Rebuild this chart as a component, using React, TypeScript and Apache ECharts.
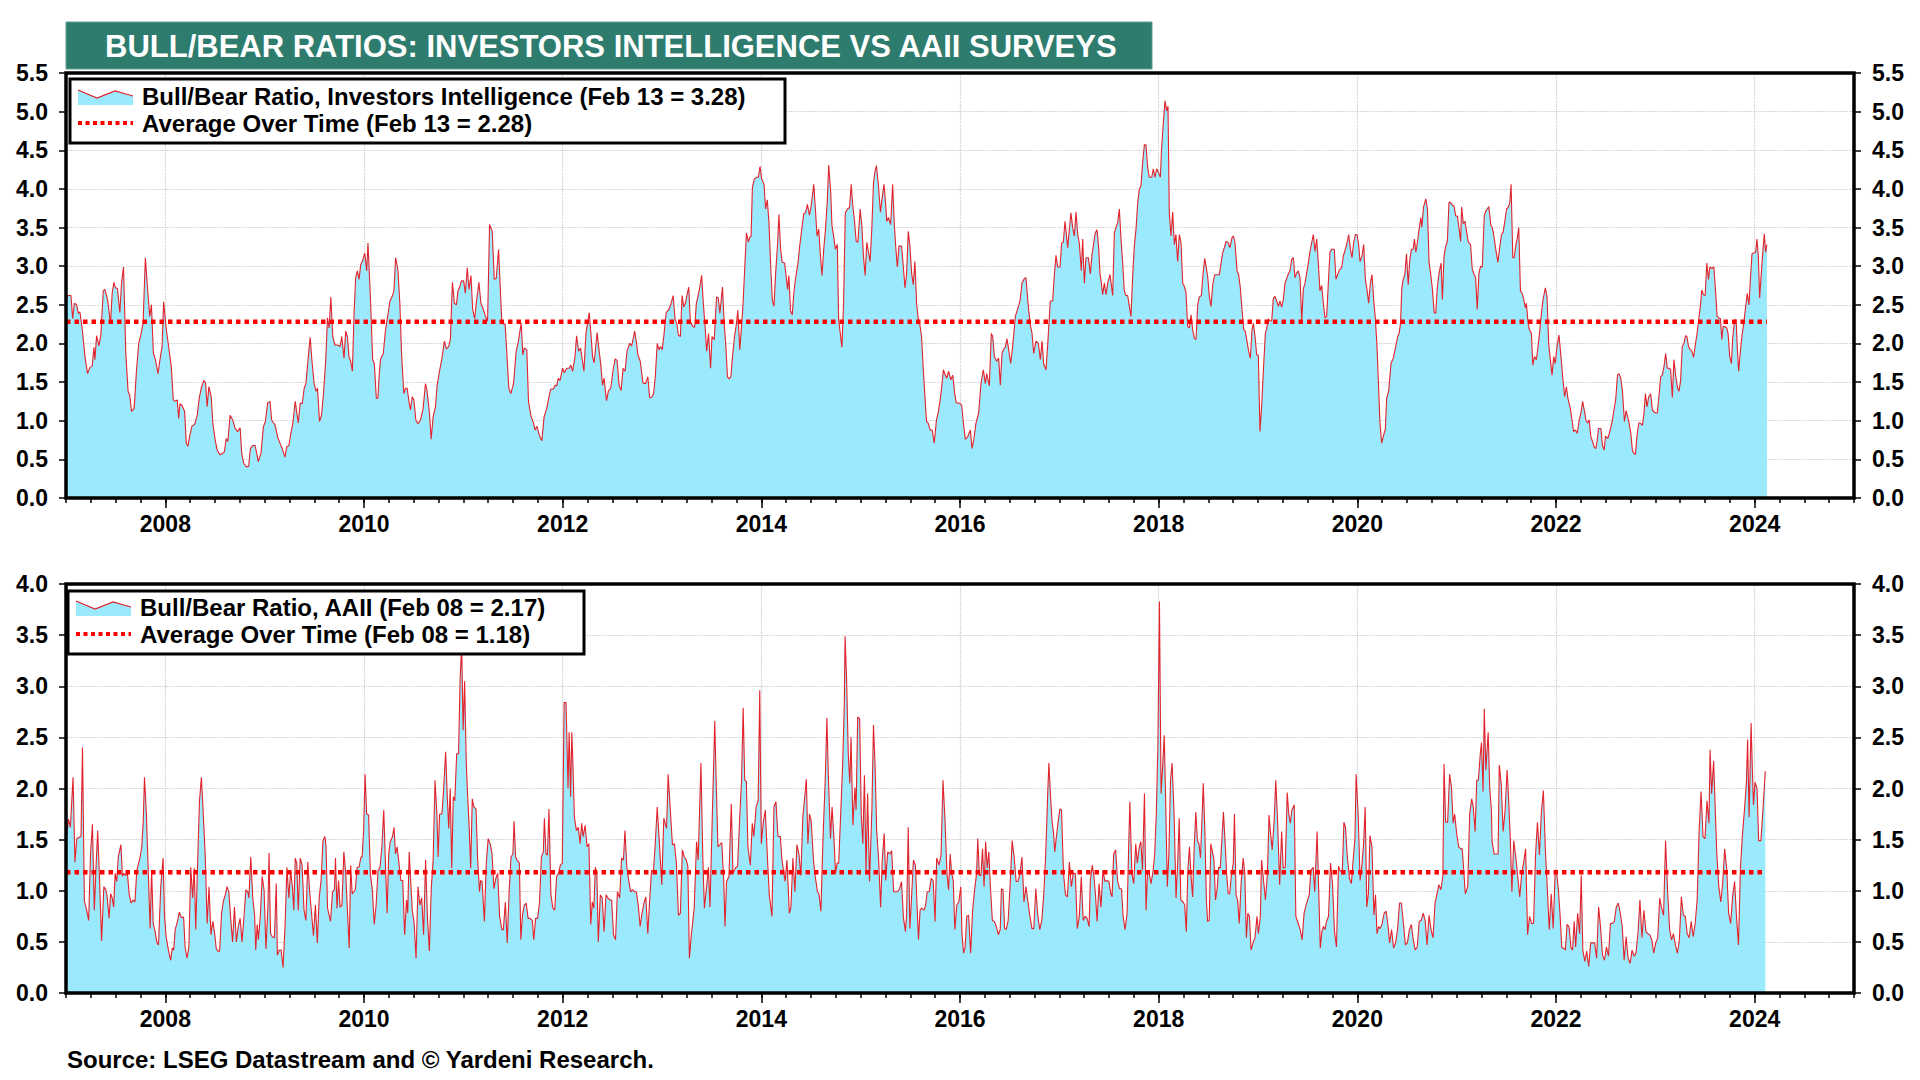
import React, { useEffect, useRef } from "react";
import * as echarts from "echarts";

// ---------------- text ----------------
const TITLE = "BULL/BEAR RATIOS: INVESTORS INTELLIGENCE VS AAII SURVEYS";
const SOURCE = "Source: LSEG Datastream and © Yardeni Research.";
const II_LEGEND = [
  "Bull/Bear Ratio, Investors Intelligence (Feb 13 = 3.28)",
  "Average Over Time (Feb 13 = 2.28)",
];
const AAII_LEGEND = [
  "Bull/Bear Ratio, AAII (Feb 08 = 2.17)",
  "Average Over Time (Feb 08 = 1.18)",
];

// ---------------- axes ----------------
const X_MIN = 2007;
const X_MAX = 2025;
const YEAR_LABELS = [2008, 2010, 2012, 2014, 2016, 2018, 2020, 2022, 2024];
const II_Y_MAX = 5.5;
const AAII_Y_MAX = 4.0;
const Y_STEP = 0.5;

// ---------------- averages ----------------
const II_AVERAGE = 2.28;
const AAII_AVERAGE = 1.18;

// ---------------- Investors Intelligence bull/bear ratio [decimal year, value] ----------------
const ii2007to2011 = [
  2007.005,2.60,
  2007.023,2.62, 2007.050,2.62, 2007.067,2.32, 2007.084,2.52, 2007.107,2.50, 2007.124,2.39, 2007.140,2.41, 2007.164,2.18,
  2007.191,1.83, 2007.217,1.61, 2007.241,1.69, 2007.264,1.71, 2007.281,1.95, 2007.291,1.79, 2007.308,2.10, 2007.331,1.97,
  2007.351,2.11, 2007.375,2.68, 2007.391,2.70, 2007.418,2.57, 2007.448,2.26, 2007.465,2.65, 2007.482,2.79, 2007.498,2.72,
  2007.518,2.71, 2007.542,2.40, 2007.559,2.78, 2007.579,2.99, 2007.602,1.87, 2007.625,1.38, 2007.642,1.33, 2007.659,1.12,
  2007.686,1.16, 2007.709,1.64, 2007.732,2.00, 2007.753,2.11, 2007.776,2.26, 2007.799,3.11, 2007.819,2.74, 2007.843,2.35,
  2007.860,2.50, 2007.880,1.87, 2007.900,1.79, 2007.926,1.61, 2007.946,1.79, 2007.967,1.96, 2007.983,2.54, 2008.010,2.18,
  2008.033,1.96, 2008.060,1.70, 2008.080,1.27, 2008.100,1.25, 2008.120,1.27, 2008.134,1.03, 2008.147,1.22, 2008.167,1.20,
  2008.194,1.12, 2008.211,0.71, 2008.227,0.67, 2008.247,0.81, 2008.268,0.93, 2008.294,0.95, 2008.321,1.07, 2008.341,1.29,
  2008.361,1.42, 2008.388,1.52, 2008.405,1.49, 2008.421,1.18, 2008.438,1.44, 2008.462,1.31, 2008.478,0.97, 2008.502,0.75,
  2008.522,0.62, 2008.548,0.56, 2008.579,0.58, 2008.595,0.60, 2008.612,0.77, 2008.629,0.73, 2008.652,1.07, 2008.679,1.01,
  2008.702,0.90, 2008.729,0.86, 2008.753,0.91, 2008.769,0.58, 2008.789,0.45, 2008.819,0.40, 2008.839,0.41, 2008.856,0.64,
  2008.880,0.68, 2008.903,0.68, 2008.920,0.58, 2008.936,0.47, 2008.963,0.58, 2008.987,0.92, 2009.007,0.99, 2009.030,1.23,
  2009.054,1.25, 2009.070,1.01, 2009.090,0.97, 2009.104,0.95, 2009.130,0.79, 2009.154,0.71, 2009.177,0.64, 2009.204,0.53,
  2009.221,0.66, 2009.244,0.68, 2009.264,0.84, 2009.284,0.97, 2009.308,1.25, 2009.324,1.10, 2009.338,0.97, 2009.358,1.23,
  2009.378,1.22, 2009.398,1.42, 2009.415,1.48, 2009.438,1.81, 2009.458,2.08, 2009.475,1.79, 2009.498,1.48, 2009.518,1.38,
  2009.532,1.42, 2009.552,0.99, 2009.572,1.07, 2009.592,1.35, 2009.615,1.79, 2009.632,2.33, 2009.649,2.20, 2009.666,2.60,
  2009.686,2.09, 2009.706,1.98, 2009.732,1.98, 2009.759,1.96, 2009.776,2.09, 2009.799,1.81, 2009.816,2.16, 2009.833,2.09,
  2009.849,1.83, 2009.866,1.77, 2009.883,1.64, 2009.900,2.39, 2009.916,2.85, 2009.933,2.94, 2009.950,2.83, 2009.967,3.02,
  2009.983,3.06, 2010.007,3.17, 2010.027,2.94, 2010.040,3.30, 2010.067,2.52, 2010.087,1.79, 2010.104,1.74, 2010.124,1.29,
  2010.140,1.29, 2010.154,1.61, 2010.167,1.80, 2010.194,1.87, 2010.217,2.18, 2010.241,2.37, 2010.261,2.55, 2010.284,2.61,
  2010.301,2.68, 2010.318,3.11, 2010.341,2.96, 2010.361,2.52, 2010.378,1.87, 2010.401,1.35, 2010.418,1.42, 2010.435,1.42,
  2010.452,1.25, 2010.468,1.14, 2010.485,1.31, 2010.502,1.27, 2010.522,1.01, 2010.542,0.96, 2010.569,1.01, 2010.595,1.16,
  2010.619,1.48, 2010.635,1.38, 2010.659,1.10, 2010.676,0.76, 2010.696,1.05, 2010.719,1.18, 2010.736,1.46, 2010.763,1.66,
  2010.786,1.82, 2010.809,2.03, 2010.829,1.93, 2010.853,1.96, 2010.870,2.06, 2010.890,2.79, 2010.910,2.52, 2010.930,2.50,
  2010.946,2.68, 2010.963,2.73, 2010.980,2.81, 2011.003,2.81, 2011.020,2.65, 2011.040,2.98, 2011.057,2.70, 2011.077,2.88,
  2011.094,2.44, 2011.114,2.32, 2011.130,2.52, 2011.157,2.79, 2011.177,2.52, 2011.204,2.43, 2011.224,2.35, 2011.244,2.29,
  2011.264,3.54, 2011.291,3.45, 2011.311,2.83, 2011.331,2.84, 2011.355,3.22, 2011.371,2.74, 2011.388,2.26, 2011.421,2.25,
  2011.438,1.87, 2011.458,1.42, 2011.478,1.35, 2011.505,1.48, 2011.532,1.90, 2011.555,2.03, 2011.572,2.18,
];
const ii2011to2015 = [
  2011.583,2.26, 2011.599,1.85, 2011.613,1.94, 2011.639,1.92, 2011.656,1.25, 2011.679,1.07, 2011.706,0.97, 2011.723,0.88,
  2011.740,0.93, 2011.766,0.81, 2011.790,0.74, 2011.813,1.05, 2011.840,1.16, 2011.866,1.33, 2011.880,1.41, 2011.907,1.41,
  2011.923,1.46, 2011.940,1.45, 2011.957,1.55, 2011.973,1.52, 2012.000,1.68, 2012.017,1.62, 2012.040,1.68, 2012.067,1.68,
  2012.083,1.72, 2012.100,1.64, 2012.124,1.83, 2012.140,2.10, 2012.160,1.90, 2012.180,1.94, 2012.200,1.77, 2012.214,1.64,
  2012.234,2.13, 2012.250,2.26, 2012.267,2.40, 2012.284,2.13, 2012.301,1.83, 2012.317,1.75, 2012.347,2.14, 2012.364,1.94,
  2012.384,1.72, 2012.401,1.46, 2012.417,1.55, 2012.441,1.26, 2012.461,1.39, 2012.484,1.42, 2012.508,1.66, 2012.528,1.80,
  2012.548,1.78, 2012.568,1.46, 2012.588,1.39, 2012.608,1.68, 2012.628,1.64, 2012.648,1.90, 2012.674,2.00, 2012.694,1.97,
  2012.708,2.05, 2012.725,2.16, 2012.741,2.03, 2012.758,1.85, 2012.781,1.77, 2012.808,1.49, 2012.835,1.48, 2012.858,1.57,
  2012.875,1.30, 2012.895,1.30, 2012.915,1.35, 2012.932,1.57, 2012.952,2.00, 2012.968,1.92, 2012.985,1.96, 2013.002,1.92,
  2013.018,2.09, 2013.042,2.40, 2013.068,2.44, 2013.088,2.50, 2013.112,2.62, 2013.132,2.31, 2013.149,2.26, 2013.165,2.11,
  2013.185,2.09, 2013.202,2.62, 2013.219,2.47, 2013.235,2.52, 2013.249,2.61, 2013.269,2.73, 2013.285,2.29, 2013.309,2.22,
  2013.329,2.21, 2013.346,2.52, 2013.362,2.61, 2013.382,2.74, 2013.399,2.88, 2013.416,2.52, 2013.436,2.18, 2013.449,1.90,
  2013.469,2.13, 2013.489,1.68, 2013.503,2.09, 2013.526,2.05, 2013.549,2.60, 2013.566,2.59, 2013.583,2.39, 2013.609,2.73,
  2013.626,2.26, 2013.643,1.96, 2013.659,1.57, 2013.676,1.54, 2013.693,1.57, 2013.710,1.83, 2013.730,2.09, 2013.750,2.26,
  2013.763,2.43, 2013.783,1.92, 2013.803,2.26, 2013.816,2.52, 2013.836,3.06, 2013.850,3.43, 2013.870,3.31, 2013.883,3.37,
  2013.897,3.39, 2013.910,4.02, 2013.930,4.13, 2013.950,4.15, 2013.970,4.15, 2013.987,4.29, 2014.003,4.13, 2014.027,4.06,
  2014.043,3.74, 2014.060,3.86, 2014.077,3.56, 2014.093,3.04, 2014.110,2.57, 2014.127,2.48, 2014.144,2.91, 2014.164,3.30,
  2014.177,3.67, 2014.194,3.22, 2014.210,3.05, 2014.234,3.04, 2014.250,2.87, 2014.264,2.70, 2014.277,2.88, 2014.294,2.42,
  2014.311,2.37, 2014.327,2.65, 2014.344,2.84, 2014.367,3.02, 2014.387,3.27, 2014.411,3.52, 2014.427,3.68, 2014.444,3.69,
  2014.464,3.80, 2014.484,3.66, 2014.501,3.77, 2014.528,4.06, 2014.544,3.74, 2014.561,3.39, 2014.578,3.48, 2014.594,3.15,
  2014.611,2.88, 2014.628,3.22, 2014.644,3.45, 2014.664,3.84, 2014.678,4.31, 2014.698,3.97, 2014.711,3.53, 2014.728,3.39,
  2014.745,3.22, 2014.765,3.28, 2014.778,2.31, 2014.795,2.13, 2014.811,1.95, 2014.828,2.52, 2014.845,3.69, 2014.868,3.74,
  2014.888,3.76, 2014.905,4.06, 2014.918,3.82, 2014.938,3.58, 2014.955,3.32, 2014.972,3.31, 2014.995,3.74, 2015.012,3.52,
  2015.028,3.13, 2015.045,2.88, 2015.062,3.31, 2015.078,3.19, 2015.095,3.06, 2015.112,3.48, 2015.129,4.08, 2015.145,4.23,
  2015.159,4.30, 2015.179,4.04, 2015.199,3.70, 2015.219,3.91, 2015.235,4.06, 2015.252,3.80, 2015.262,3.58, 2015.279,3.63,
  2015.302,3.54, 2015.322,4.06, 2015.339,3.54, 2015.352,3.27, 2015.369,2.99, 2015.386,3.26, 2015.412,3.26, 2015.429,3.00,
  2015.446,2.72, 2015.462,2.89, 2015.479,3.45, 2015.496,3.26, 2015.513,2.91, 2015.529,2.76, 2015.546,3.06, 2015.563,2.52,
  2015.579,2.33, 2015.596,2.24, 2015.613,2.09, 2015.629,1.70, 2015.646,1.33, 2015.663,0.99, 2015.679,0.97, 2015.700,0.88,
  2015.720,0.88, 2015.740,0.71, 2015.763,1.01, 2015.780,1.10, 2015.796,1.23, 2015.813,1.40, 2015.833,1.66, 2015.846,1.61,
  2015.866,1.55, 2015.886,1.64, 2015.907,1.53, 2015.927,1.59, 2015.947,1.35, 2015.963,1.23,
];
const ii2016to2020 = [
  2015.993,1.23, 2016.017,1.20, 2016.034,0.97, 2016.054,0.76, 2016.077,0.79, 2016.104,0.88, 2016.121,0.64, 2016.138,0.75,
  2016.161,0.97, 2016.188,1.10, 2016.211,1.48, 2016.235,1.66, 2016.255,1.48, 2016.268,1.61, 2016.295,1.45, 2016.315,2.13,
  2016.329,2.09, 2016.346,1.83, 2016.369,1.77, 2016.389,1.81, 2016.406,1.46, 2016.423,1.87, 2016.440,1.93, 2016.456,1.95,
  2016.473,2.06, 2016.490,1.92, 2016.510,1.74, 2016.530,1.96, 2016.557,2.35, 2016.581,2.45, 2016.604,2.55, 2016.624,2.78,
  2016.648,2.84, 2016.664,2.85, 2016.685,2.52, 2016.705,2.26, 2016.725,2.13, 2016.742,1.87, 2016.765,2.03, 2016.789,2.00,
  2016.809,1.79, 2016.826,2.03, 2016.842,1.74, 2016.866,1.66, 2016.886,2.05, 2016.909,2.55, 2016.933,2.55, 2016.950,2.89,
  2016.966,3.14, 2016.983,2.99, 2017.007,2.99, 2017.023,3.30, 2017.040,3.31, 2017.057,3.58, 2017.084,3.24, 2017.101,3.48,
  2017.117,3.69, 2017.134,3.50, 2017.151,3.39, 2017.168,3.70, 2017.185,3.41, 2017.201,3.30, 2017.221,2.94, 2017.235,3.35,
  2017.252,2.78, 2017.268,3.11, 2017.292,3.11, 2017.312,2.90, 2017.329,3.15, 2017.346,3.30, 2017.362,3.43, 2017.379,3.47,
  2017.396,3.24, 2017.409,2.91, 2017.423,2.78, 2017.436,2.63, 2017.453,2.78, 2017.470,2.63, 2017.487,2.78, 2017.510,2.89,
  2017.537,2.62, 2017.554,3.43, 2017.570,3.50, 2017.587,3.56, 2017.604,3.74, 2017.621,3.35, 2017.638,3.04, 2017.654,2.68,
  2017.671,2.62, 2017.688,2.62, 2017.705,2.48, 2017.721,2.35, 2017.738,2.87, 2017.755,3.26, 2017.772,3.48, 2017.789,3.82,
  2017.805,4.00, 2017.822,4.04, 2017.839,4.34, 2017.856,4.57, 2017.872,4.57, 2017.889,4.28, 2017.906,4.15, 2017.930,4.15,
  2017.946,4.26, 2017.963,4.15, 2017.980,4.26, 2018.000,4.21, 2018.017,4.15, 2018.030,4.54, 2018.047,4.86, 2018.064,5.14,
  2018.081,5.01, 2018.094,5.07, 2018.107,3.69, 2018.124,3.39, 2018.141,3.70, 2018.158,3.28, 2018.174,3.41, 2018.191,3.06,
  2018.208,3.41, 2018.225,3.30, 2018.242,2.78, 2018.258,2.74, 2018.275,2.66, 2018.292,2.22, 2018.309,2.20, 2018.326,2.37,
  2018.342,2.18, 2018.359,2.07, 2018.376,2.05, 2018.393,2.50, 2018.409,2.60, 2018.430,2.62, 2018.443,2.85, 2018.463,3.10,
  2018.477,3.00, 2018.493,2.87, 2018.510,2.61, 2018.527,2.48, 2018.544,2.76, 2018.564,2.89, 2018.584,2.89, 2018.611,2.89,
  2018.628,3.04, 2018.644,3.17, 2018.661,3.24, 2018.678,3.32, 2018.698,3.31, 2018.718,3.24, 2018.738,3.37, 2018.752,3.39,
  2018.768,3.31, 2018.789,2.94, 2018.805,2.89, 2018.822,2.72, 2018.839,2.44, 2018.856,2.18, 2018.872,2.16, 2018.889,2.03,
  2018.906,1.90, 2018.923,1.81, 2018.940,2.18, 2018.953,2.26, 2018.970,2.09, 2018.987,1.85, 2019.003,1.85, 2019.020,0.86,
  2019.040,1.27, 2019.054,1.64, 2019.074,2.13, 2019.087,2.19, 2019.104,2.32, 2019.121,2.29, 2019.138,2.29, 2019.154,2.58,
  2019.171,2.61, 2019.188,2.55, 2019.205,2.48, 2019.221,2.55, 2019.238,2.47, 2019.255,2.57, 2019.272,2.78, 2019.289,2.84,
  2019.305,2.90, 2019.322,2.94, 2019.339,3.09, 2019.356,3.11, 2019.372,2.85, 2019.389,2.91, 2019.406,2.94, 2019.423,2.85,
  2019.440,2.29, 2019.456,2.70, 2019.473,2.78, 2019.490,2.91, 2019.507,3.04, 2019.523,3.19, 2019.540,3.30, 2019.557,3.41,
  2019.574,3.19, 2019.591,3.35, 2019.607,3.04, 2019.624,2.68, 2019.641,2.75, 2019.658,2.52, 2019.674,2.33, 2019.691,2.35,
  2019.708,2.78, 2019.725,3.19, 2019.745,3.22, 2019.768,3.22, 2019.785,2.83, 2019.802,2.89, 2019.819,2.95, 2019.842,2.98,
  2019.859,3.13, 2019.879,3.22, 2019.896,3.30, 2019.913,3.41, 2019.930,3.22, 2019.946,3.11, 2019.963,3.30, 2019.980,3.41,
  2019.997,3.41, 2020.013,3.28, 2020.027,3.06, 2020.047,3.13, 2020.064,3.28, 2020.081,2.83, 2020.097,2.70, 2020.114,2.52,
  2020.131,2.78, 2020.148,2.89, 2020.164,2.57, 2020.181,2.33, 2020.198,1.96, 2020.215,1.40, 2020.228,0.97, 2020.245,0.71,
  2020.262,0.80, 2020.282,0.89, 2020.295,1.29, 2020.315,1.38, 2020.339,1.74, 2020.362,1.81, 2020.383,1.94, 2020.406,2.09,
];
const ii2020to2024 = [
  2020.421,2.13, 2020.435,2.26, 2020.448,2.72, 2020.462,2.83, 2020.478,2.89, 2020.495,3.16, 2020.512,2.76, 2020.528,3.08,
  2020.545,3.22, 2020.562,3.22, 2020.575,3.35, 2020.589,3.18, 2020.605,3.31, 2020.622,3.48, 2020.639,3.63, 2020.649,3.50,
  2020.666,3.76, 2020.689,3.87, 2020.706,3.74, 2020.722,3.05, 2020.739,2.89, 2020.756,2.70, 2020.773,2.40, 2020.789,2.39,
  2020.806,2.74, 2020.823,2.91, 2020.843,3.04, 2020.856,2.57, 2020.873,3.13, 2020.890,3.26, 2020.906,3.32, 2020.923,3.83,
  2020.940,3.82, 2020.957,3.79, 2020.973,3.78, 2020.990,3.65, 2021.007,3.65, 2021.023,3.50, 2021.040,3.32, 2021.050,3.77,
  2021.067,3.55, 2021.084,3.58, 2021.100,3.44, 2021.117,3.31, 2021.140,3.28, 2021.157,2.96, 2021.174,2.90, 2021.191,2.85,
  2021.207,2.44, 2021.224,2.91, 2021.241,3.00, 2021.258,2.99, 2021.278,3.65, 2021.291,3.71, 2021.308,3.74, 2021.324,3.77,
  2021.344,3.53, 2021.358,3.50, 2021.375,3.39, 2021.391,3.24, 2021.415,3.05, 2021.431,3.22, 2021.452,3.41, 2021.468,3.44,
  2021.485,3.58, 2021.502,3.74, 2021.518,3.76, 2021.535,3.82, 2021.548,4.06, 2021.565,3.11, 2021.579,3.11, 2021.599,3.30,
  2021.609,3.35, 2021.625,3.50, 2021.642,2.68, 2021.659,2.65, 2021.676,2.57, 2021.692,2.46, 2021.702,2.52, 2021.719,2.26,
  2021.732,2.18, 2021.753,2.13, 2021.766,1.72, 2021.783,1.83, 2021.803,1.79, 2021.819,1.96, 2021.836,2.16, 2021.853,2.39,
  2021.870,2.57, 2021.893,2.72, 2021.910,2.60, 2021.926,2.00, 2021.943,1.79, 2021.960,1.59, 2021.977,1.83, 2021.993,1.74,
  2022.010,1.96, 2022.030,2.11, 2022.050,1.83, 2022.067,1.57, 2022.087,1.31, 2022.104,1.44, 2022.120,1.29, 2022.144,1.16,
  2022.161,1.01, 2022.177,0.86, 2022.194,0.88, 2022.214,0.84, 2022.234,1.01, 2022.251,1.10, 2022.268,1.25, 2022.284,1.14,
  2022.301,1.01, 2022.318,0.97, 2022.334,1.01, 2022.351,0.79, 2022.368,0.73, 2022.385,0.66, 2022.401,0.64, 2022.415,0.75,
  2022.428,0.90, 2022.452,0.90, 2022.468,0.68, 2022.485,0.62, 2022.498,0.80, 2022.522,0.77, 2022.538,0.84, 2022.562,0.97,
  2022.579,1.10, 2022.602,1.29, 2022.619,1.59, 2022.635,1.61, 2022.652,1.55, 2022.669,1.38, 2022.689,0.99, 2022.706,1.13,
  2022.722,1.05, 2022.736,0.97, 2022.753,0.84, 2022.769,0.62, 2022.783,0.58, 2022.799,0.56, 2022.816,0.81, 2022.833,0.97,
  2022.849,0.97, 2022.870,0.94, 2022.886,1.10, 2022.900,1.35, 2022.916,1.18, 2022.933,1.31, 2022.953,1.35, 2022.970,1.14,
  2022.983,1.12, 2023.003,1.10, 2023.020,1.10, 2023.037,1.33, 2023.054,1.57, 2023.070,1.59, 2023.087,1.70, 2023.104,1.87,
  2023.120,1.68, 2023.137,1.68, 2023.154,1.66, 2023.171,1.30, 2023.187,1.79, 2023.204,1.59, 2023.221,1.44, 2023.237,1.38,
  2023.254,1.51, 2023.271,1.96, 2023.288,2.00, 2023.304,2.10, 2023.318,2.09, 2023.334,1.96, 2023.351,1.92, 2023.368,1.90,
  2023.385,1.82, 2023.401,1.97, 2023.418,2.11, 2023.435,2.29, 2023.452,2.47, 2023.468,2.69, 2023.485,2.63, 2023.502,2.62,
  2023.518,3.04, 2023.535,2.83, 2023.548,2.99, 2023.569,2.97, 2023.589,2.99, 2023.605,2.70, 2023.622,2.35, 2023.639,2.33,
  2023.656,2.32, 2023.669,2.05, 2023.682,2.22, 2023.699,2.22, 2023.719,2.20, 2023.732,2.13, 2023.749,1.83, 2023.766,1.74,
  2023.779,2.07, 2023.796,2.29, 2023.813,2.31, 2023.826,1.92, 2023.839,1.64, 2023.856,1.90, 2023.873,2.11, 2023.890,2.26,
  2023.906,2.44, 2023.926,2.65, 2023.943,2.50, 2023.957,2.83, 2023.973,3.16, 2023.993,3.17, 2024.010,3.18, 2024.023,3.35,
  2024.037,3.13, 2024.050,2.59, 2024.067,2.91, 2024.084,3.22, 2024.097,3.42, 2024.110,3.18, 2024.123,3.28,
];

// ---------------- AAII bull/bear ratio [decimal year, value] ----------------
const aaii2007to2012 = [
  2007.008,1.55, 2007.025,1.70,
  2007.044,1.62, 2007.071,2.11, 2007.090,1.28, 2007.109,1.51, 2007.128,1.52, 2007.151,1.53, 2007.166,2.40, 2007.185,0.90,
  2007.208,0.81, 2007.228,0.71, 2007.247,1.36, 2007.266,1.65, 2007.285,0.81, 2007.304,1.27, 2007.319,1.59, 2007.338,1.10,
  2007.358,0.51, 2007.381,1.04, 2007.400,1.01, 2007.415,0.94, 2007.434,0.73, 2007.449,0.97, 2007.465,0.93, 2007.480,0.84,
  2007.495,1.17, 2007.511,1.09, 2007.526,1.33, 2007.553,1.45, 2007.568,1.14, 2007.579,1.17, 2007.598,1.15, 2007.618,1.17,
  2007.637,0.96, 2007.656,0.88, 2007.675,0.91, 2007.694,0.89, 2007.713,1.20, 2007.744,1.32, 2007.763,1.43, 2007.778,1.69,
  2007.790,2.11, 2007.809,1.75, 2007.828,1.20, 2007.847,0.63, 2007.862,1.20, 2007.878,0.68, 2007.893,0.62, 2007.916,0.49,
  2007.931,0.47, 2007.954,1.04, 2007.977,1.32, 2007.992,0.75, 2008.008,0.55, 2008.031,0.42, 2008.054,0.32, 2008.069,0.44,
  2008.084,0.42, 2008.099,0.62, 2008.122,0.70, 2008.141,0.79, 2008.161,0.74, 2008.184,0.74, 2008.199,0.45, 2008.218,0.34,
  2008.237,0.45, 2008.256,1.23, 2008.275,0.93, 2008.291,1.22, 2008.306,0.62, 2008.329,1.40, 2008.344,1.88, 2008.363,2.11,
  2008.382,1.75, 2008.402,1.33, 2008.421,0.68, 2008.440,1.04, 2008.459,0.57, 2008.478,0.70, 2008.497,0.58, 2008.512,0.44,
  2008.528,0.41, 2008.547,0.41, 2008.566,0.78, 2008.585,0.90, 2008.604,0.96, 2008.620,1.04, 2008.639,0.99, 2008.658,0.73,
  2008.677,0.50, 2008.696,0.84, 2008.715,0.50, 2008.734,0.65, 2008.753,0.73, 2008.772,0.50, 2008.792,0.75, 2008.811,1.01,
  2008.830,0.99, 2008.841,0.93, 2008.860,1.33, 2008.880,0.93, 2008.899,0.76, 2008.910,0.42, 2008.925,0.67, 2008.937,0.52,
  2008.956,0.75, 2008.975,1.14, 2008.994,1.01, 2009.013,0.43, 2009.033,0.84, 2009.044,1.37, 2009.059,0.58, 2009.078,0.55,
  2009.098,0.54, 2009.117,1.07, 2009.128,0.37, 2009.147,0.42, 2009.166,0.42, 2009.185,0.25, 2009.205,0.65, 2009.224,1.23,
  2009.243,0.93, 2009.262,1.19, 2009.281,1.02, 2009.293,0.81, 2009.308,1.32, 2009.323,1.27, 2009.338,0.81, 2009.358,1.32,
  2009.377,1.25, 2009.396,0.81, 2009.415,0.71, 2009.434,1.28, 2009.453,0.99, 2009.472,0.78, 2009.491,0.56, 2009.511,0.86,
  2009.530,0.49, 2009.549,0.93, 2009.568,1.10, 2009.587,1.49, 2009.606,1.53, 2009.618,1.43, 2009.633,0.83, 2009.644,0.78,
  2009.663,0.70, 2009.683,0.99, 2009.702,1.01, 2009.713,1.32, 2009.728,0.83, 2009.744,1.10, 2009.759,0.84, 2009.778,0.86,
  2009.797,1.38, 2009.816,1.17, 2009.836,0.75, 2009.851,0.44, 2009.866,1.25, 2009.881,0.97, 2009.897,0.99, 2009.912,1.01,
  2009.931,1.23, 2009.950,1.23, 2009.969,1.33, 2009.981,1.33, 2009.996,1.58, 2010.011,2.14, 2010.027,1.75, 2010.046,1.74,
  2010.065,1.15, 2010.084,1.01, 2010.103,0.67, 2010.122,0.86, 2010.141,1.19, 2010.161,1.23, 2010.180,1.43, 2010.199,1.79,
  2010.218,1.20, 2010.233,0.78, 2010.249,1.36, 2010.264,1.48, 2010.287,1.53, 2010.302,1.62, 2010.317,1.36, 2010.333,1.43,
  2010.352,1.27, 2010.371,1.10, 2010.390,1.10, 2010.409,0.57, 2010.428,0.91, 2010.440,0.78, 2010.455,1.38, 2010.467,1.15,
  2010.486,0.81, 2010.505,0.68, 2010.524,0.34, 2010.543,1.04, 2010.562,0.86, 2010.581,0.93, 2010.600,0.57, 2010.620,1.30,
  2010.639,0.73, 2010.658,0.41, 2010.677,1.02, 2010.696,1.30, 2010.715,2.08, 2010.734,1.75, 2010.746,1.33, 2010.761,1.75,
  2010.784,1.75, 2010.799,1.95, 2010.822,2.36, 2010.837,1.95, 2010.853,1.61, 2010.868,2.00, 2010.883,1.22, 2010.899,1.92,
  2010.914,1.88, 2010.933,2.34, 2010.952,2.34, 2010.967,3.05, 2010.983,3.41, 2010.998,2.57, 2011.013,3.05, 2011.029,2.27,
  2011.044,1.92, 2011.059,1.62, 2011.074,1.22, 2011.090,1.90, 2011.105,1.82, 2011.128,1.80, 2011.143,1.33, 2011.163,0.99,
  2011.174,1.10, 2011.189,1.09, 2011.212,0.70, 2011.231,1.27, 2011.250,1.51, 2011.270,1.46, 2011.289,1.36, 2011.308,1.02,
  2011.327,1.12, 2011.346,1.17, 2011.365,0.75, 2011.388,0.62, 2011.403,0.62, 2011.423,0.89, 2011.442,0.49, 2011.461,0.99,
  2011.480,1.33, 2011.499,1.36, 2011.511,1.68, 2011.526,1.33, 2011.541,1.30, 2011.564,1.27, 2011.579,0.52, 2011.595,0.76,
  2011.614,0.86, 2011.633,0.88, 2011.652,0.73, 2011.671,0.73, 2011.694,0.71, 2011.709,0.52, 2011.728,0.73, 2011.748,0.73,
  2011.767,0.89, 2011.786,1.33, 2011.805,1.38, 2011.816,1.71, 2011.832,1.36, 2011.847,1.35, 2011.862,1.80, 2011.881,0.97,
  2011.901,0.83, 2011.920,0.81, 2011.939,1.14, 2011.958,1.17, 2011.977,1.25, 2011.996,1.27, 2012.015,2.84, 2012.034,2.84,
  2012.054,2.00, 2012.065,2.55, 2012.080,1.92, 2012.092,2.55, 2012.103,2.24, 2012.118,1.72, 2012.138,1.59, 2012.157,1.62,
  2012.176,1.46, 2012.191,1.66, 2012.206,1.53, 2012.226,1.64, 2012.245,1.43, 2012.264,1.46, 2012.283,0.67, 2012.298,0.89,
  2012.314,0.83, 2012.329,1.23, 2012.344,1.17, 2012.359,0.50, 2012.379,0.96, 2012.398,0.93, 2012.417,0.60, 2012.436,0.96,
  2012.455,0.93, 2012.474,0.91, 2012.493,0.91, 2012.512,0.57, 2012.532,0.52, 2012.551,0.99, 2012.574,0.93, 2012.593,1.32,
  2012.612,1.30, 2012.627,1.59, 2012.646,1.23, 2012.665,1.10, 2012.684,0.99, 2012.704,1.01, 2012.723,0.99, 2012.742,0.99,
  2012.761,0.86, 2012.780,0.65, 2012.799,0.78, 2012.818,0.88, 2012.837,0.94, 2012.857,0.58, 2012.876,0.91, 2012.895,1.20,
  2012.914,1.19, 2012.933,1.48, 2012.952,1.82,
];
const aaii2013to2018 = [
  2012.998,1.06, 2013.018,1.71, 2013.046,1.61, 2013.062,2.14, 2013.086,1.75, 2013.105,1.45, 2013.125,1.46, 2013.145,1.27,
  2013.165,0.76, 2013.185,0.78, 2013.205,1.40, 2013.225,1.33, 2013.245,1.30, 2013.260,1.24, 2013.276,0.34, 2013.296,0.58,
  2013.324,0.83, 2013.348,1.48, 2013.364,1.30, 2013.392,2.25, 2013.412,1.27, 2013.427,0.83, 2013.451,1.06, 2013.467,1.23,
  2013.483,0.84, 2013.507,1.75, 2013.531,2.66, 2013.547,2.01, 2013.563,1.43, 2013.583,1.45, 2013.602,1.47, 2013.622,1.09,
  2013.634,0.65, 2013.650,1.09, 2013.674,1.14, 2013.698,1.85, 2013.714,1.17, 2013.738,1.22, 2013.761,1.24, 2013.781,1.69,
  2013.801,2.08, 2013.817,2.79, 2013.833,2.08, 2013.849,2.07, 2013.865,1.43, 2013.889,1.25, 2013.909,1.66, 2013.924,1.53,
  2013.948,1.82, 2013.968,1.88, 2013.984,2.96, 2014.000,1.46, 2014.020,1.67, 2014.040,1.79, 2014.060,1.35, 2014.080,0.96,
  2014.107,0.75, 2014.127,1.82, 2014.147,1.87, 2014.167,1.53, 2014.191,1.53, 2014.207,1.31, 2014.223,1.20, 2014.239,1.09,
  2014.258,1.30, 2014.282,0.78, 2014.298,0.84, 2014.318,1.32, 2014.338,0.99, 2014.358,1.45, 2014.378,1.36, 2014.398,1.15,
  2014.417,1.71, 2014.437,1.92, 2014.453,2.09, 2014.469,1.46, 2014.485,1.75, 2014.501,1.69, 2014.525,1.30, 2014.541,1.15,
  2014.565,0.99, 2014.580,0.97, 2014.600,0.80, 2014.620,1.49, 2014.644,2.11, 2014.660,2.69, 2014.676,2.08, 2014.696,1.51,
  2014.712,1.82, 2014.732,1.49, 2014.747,1.17, 2014.763,1.27, 2014.779,1.27, 2014.803,1.85, 2014.819,2.24, 2014.835,2.81,
  2014.843,3.49, 2014.859,3.05, 2014.875,2.34, 2014.891,2.05, 2014.903,2.50, 2014.922,1.64, 2014.942,2.01, 2014.954,1.79,
  2014.970,2.70, 2014.990,2.68, 2015.006,1.74, 2015.022,1.46, 2015.038,2.13, 2015.054,1.19, 2015.070,1.95, 2015.089,1.09,
  2015.113,1.79, 2015.129,2.62, 2015.145,2.23, 2015.161,1.59, 2015.181,1.30, 2015.201,0.84, 2015.217,1.30, 2015.237,1.56,
  2015.252,1.10, 2015.272,1.38, 2015.292,1.36, 2015.312,1.39, 2015.332,0.99, 2015.352,0.99, 2015.372,0.99, 2015.392,1.02,
  2015.411,1.09, 2015.431,0.73, 2015.451,0.60, 2015.463,0.78, 2015.479,1.62, 2015.495,0.63, 2015.511,0.91, 2015.531,1.30,
  2015.551,1.25, 2015.571,0.78, 2015.582,0.52, 2015.598,0.81, 2015.614,0.83, 2015.638,0.81, 2015.654,0.86, 2015.670,0.99,
  2015.690,0.99, 2015.710,1.12, 2015.730,1.10, 2015.749,0.70, 2015.765,1.32, 2015.789,1.25, 2015.809,1.35, 2015.829,2.08,
  2015.849,1.69, 2015.869,1.17, 2015.885,1.01, 2015.901,1.36, 2015.916,1.17, 2015.932,1.10, 2015.948,0.62, 2015.968,0.86,
  2015.988,0.89, 2016.008,1.04, 2016.020,0.58, 2016.036,0.39, 2016.052,0.45, 2016.068,0.75, 2016.087,0.76, 2016.107,0.39,
  2016.127,0.81, 2016.147,1.01, 2016.167,1.17, 2016.179,1.51, 2016.195,1.15, 2016.211,1.15, 2016.227,1.41, 2016.242,1.04,
  2016.258,1.48, 2016.274,1.22, 2016.290,1.38, 2016.306,1.04, 2016.326,0.71, 2016.346,0.70, 2016.366,0.65, 2016.386,0.57,
  2016.405,0.62, 2016.417,1.02, 2016.433,1.01, 2016.449,0.63, 2016.465,0.62, 2016.485,0.71, 2016.505,1.06, 2016.525,1.49,
  2016.545,1.33, 2016.565,1.09, 2016.584,1.09, 2016.604,1.17, 2016.624,1.33, 2016.644,0.89, 2016.664,1.04, 2016.684,0.89,
  2016.704,0.75, 2016.724,0.63, 2016.743,0.63, 2016.763,1.02, 2016.783,0.76, 2016.803,0.62, 2016.823,0.71, 2016.843,0.96,
  2016.863,1.36, 2016.883,1.95, 2016.895,2.25, 2016.910,1.95, 2016.926,1.69, 2016.942,1.56, 2016.954,1.38, 2016.974,1.56,
  2016.990,1.69, 2017.006,1.80, 2017.022,1.79, 2017.042,1.17, 2017.062,0.96, 2017.081,0.94, 2017.101,1.28, 2017.121,1.04,
  2017.141,1.17, 2017.161,1.17, 2017.181,0.63, 2017.201,0.75, 2017.221,1.14, 2017.240,0.71, 2017.260,0.75, 2017.280,0.73,
  2017.300,0.65, 2017.312,1.10, 2017.332,1.25, 2017.348,1.14, 2017.364,0.96, 2017.380,0.70, 2017.400,1.07, 2017.419,0.84,
  2017.439,1.20, 2017.459,1.09, 2017.479,1.10, 2017.499,1.09, 2017.519,0.97, 2017.531,0.94, 2017.547,1.36, 2017.567,1.40,
  2017.586,1.10, 2017.606,1.02, 2017.626,1.02, 2017.642,0.75, 2017.662,0.62, 2017.682,0.78, 2017.698,1.43, 2017.710,1.87,
  2017.730,1.17, 2017.749,1.07, 2017.769,1.46, 2017.785,1.27, 2017.805,1.43, 2017.821,1.48, 2017.837,1.20, 2017.857,1.95,
  2017.873,0.81, 2017.889,1.20, 2017.904,1.17, 2017.924,1.07, 2017.944,1.20, 2017.960,1.36, 2017.976,1.75, 2017.992,2.40,
  2018.008,3.83, 2018.024,1.95, 2018.040,2.21, 2018.056,2.52, 2018.072,1.82, 2018.087,1.04, 2018.103,1.36, 2018.119,2.08,
  2018.135,2.25, 2018.155,1.75, 2018.175,0.93, 2018.191,1.27, 2018.207,1.71, 2018.223,0.91, 2018.246,0.89, 2018.262,0.86,
  2018.278,0.60, 2018.294,1.20, 2018.310,1.43, 2018.326,1.14, 2018.342,0.94, 2018.358,1.43, 2018.374,1.77, 2018.390,1.49,
  2018.406,1.46, 2018.421,1.32, 2018.433,1.62, 2018.449,2.05, 2018.465,1.59, 2018.481,0.89, 2018.493,0.70, 2018.509,0.71,
  2018.525,1.46, 2018.541,1.38, 2018.557,1.30, 2018.572,0.91, 2018.588,1.01, 2018.604,1.23, 2018.620,1.22, 2018.636,1.49,
  2018.652,1.77, 2018.668,1.49, 2018.684,1.17, 2018.700,0.97, 2018.715,0.97, 2018.731,1.14, 2018.751,1.27, 2018.763,1.75,
  2018.779,0.96, 2018.795,0.91, 2018.811,0.68, 2018.831,1.09, 2018.851,1.32, 2018.867,1.17, 2018.883,0.54, 2018.898,0.78,
  2018.914,0.75, 2018.930,0.42, 2018.950,0.49, 2018.970,0.54, 2018.990,0.75,
];
const aaii2019to2024 = [
  2019.004,0.58, 2019.024,0.75, 2019.036,1.30, 2019.056,1.10, 2019.075,0.91, 2019.095,1.17, 2019.111,1.74, 2019.127,1.56,
  2019.143,1.40, 2019.163,1.69, 2019.179,2.08, 2019.198,1.66, 2019.218,1.06, 2019.238,1.58, 2019.254,1.22, 2019.274,1.23,
  2019.294,1.96, 2019.310,1.75, 2019.325,1.66, 2019.341,1.79, 2019.365,1.84, 2019.381,0.75, 2019.405,0.68, 2019.425,0.62,
  2019.444,0.52, 2019.464,0.78, 2019.484,0.86, 2019.500,0.91, 2019.516,0.96, 2019.532,1.20, 2019.556,1.23, 2019.571,0.99,
  2019.595,1.58, 2019.611,1.01, 2019.627,0.44, 2019.643,0.60, 2019.659,0.65, 2019.675,0.62, 2019.690,0.70, 2019.710,0.75,
  2019.730,1.27, 2019.750,1.07, 2019.770,0.60, 2019.790,0.45, 2019.810,1.24, 2019.829,1.19, 2019.849,1.20, 2019.865,1.67,
  2019.881,1.62, 2019.897,1.36, 2019.921,1.12, 2019.940,1.07, 2019.960,1.33, 2019.976,1.51, 2019.988,2.14, 2020.008,1.75,
  2020.028,1.10, 2020.048,1.27, 2020.063,1.46, 2020.079,1.82, 2020.095,0.84, 2020.111,0.97, 2020.127,1.54, 2020.147,1.43,
  2020.167,0.76, 2020.183,0.96, 2020.198,0.58, 2020.214,0.65, 2020.230,0.63, 2020.250,0.68, 2020.270,0.78, 2020.290,0.80,
  2020.310,0.65, 2020.325,0.49, 2020.345,0.62, 2020.365,0.44, 2020.385,0.49, 2020.405,0.62, 2020.425,0.88, 2020.444,0.88,
  2020.464,0.68, 2020.484,0.47, 2020.504,0.49, 2020.524,0.62, 2020.544,0.67, 2020.563,0.52, 2020.583,0.42, 2020.603,0.45,
  2020.623,0.70, 2020.643,0.71, 2020.663,0.78, 2020.683,0.71, 2020.702,0.47, 2020.722,0.76, 2020.742,0.62, 2020.762,0.54,
  2020.782,0.88, 2020.802,0.97, 2020.821,1.06, 2020.841,1.01, 2020.861,1.14, 2020.873,2.24, 2020.889,1.67, 2020.909,1.67,
  2020.929,2.14, 2020.948,2.01, 2020.964,1.66, 2020.980,1.75, 2021.000,1.56, 2021.020,1.43, 2021.040,1.41, 2021.056,1.41,
  2021.071,1.20, 2021.087,0.97, 2021.111,1.04, 2021.131,1.75, 2021.151,1.90, 2021.167,1.82, 2021.186,1.58, 2021.202,2.08,
  2021.218,2.08, 2021.238,2.34, 2021.250,2.45, 2021.266,1.97, 2021.278,2.78, 2021.294,2.18, 2021.317,2.55, 2021.333,2.00,
  2021.349,1.80, 2021.357,1.48, 2021.377,1.36, 2021.397,1.36, 2021.417,1.36, 2021.429,2.23, 2021.448,2.05, 2021.468,1.58,
  2021.488,1.79, 2021.508,2.18, 2021.524,1.88, 2021.540,1.51, 2021.556,0.99, 2021.575,1.49, 2021.595,1.33, 2021.615,1.14,
  2021.635,0.94, 2021.655,1.17, 2021.675,1.28, 2021.694,1.41, 2021.714,0.57, 2021.734,0.75, 2021.754,0.68, 2021.774,0.68,
  2021.794,1.35, 2021.813,1.67, 2021.833,1.35, 2021.853,1.77, 2021.873,1.98, 2021.893,1.40, 2021.913,1.01, 2021.932,0.62,
  2021.952,0.97, 2021.972,0.63, 2021.992,1.20, 2022.004,1.20, 2022.024,1.01, 2022.040,0.78, 2022.059,0.44, 2022.079,0.44,
  2022.095,0.42, 2022.111,0.67, 2022.131,0.65, 2022.151,0.44, 2022.167,0.42, 2022.183,0.70, 2022.198,0.45, 2022.218,0.78,
  2022.238,0.58, 2022.254,1.15, 2022.270,0.42, 2022.290,0.31, 2022.309,0.41, 2022.329,0.26, 2022.349,0.49, 2022.369,0.49,
  2022.389,0.49, 2022.409,0.34, 2022.429,0.84, 2022.448,0.65, 2022.468,0.37, 2022.488,0.32, 2022.508,0.45, 2022.528,0.36,
  2022.548,0.68, 2022.567,0.68, 2022.587,0.70, 2022.607,0.84, 2022.627,0.88, 2022.647,0.78, 2022.667,0.65, 2022.686,0.32,
  2022.706,0.55, 2022.726,0.34, 2022.746,0.29, 2022.766,0.42, 2022.786,0.36, 2022.805,0.39, 2022.825,0.58, 2022.845,0.91,
  2022.865,0.54, 2022.885,0.81, 2022.905,0.60, 2022.924,0.58, 2022.944,0.57, 2022.964,0.52, 2022.984,0.39, 2023.004,0.49,
  2023.024,0.54, 2023.044,0.93, 2023.063,0.83, 2023.083,0.76, 2023.103,1.49, 2023.123,1.01, 2023.143,0.63, 2023.163,0.52,
  2023.182,0.58, 2023.202,0.47, 2023.222,0.39, 2023.242,0.52, 2023.262,0.94, 2023.282,0.76, 2023.302,0.75, 2023.321,0.58,
  2023.341,0.54, 2023.361,0.70, 2023.381,0.55, 2023.401,0.68, 2023.421,0.91, 2023.440,1.56, 2023.460,1.97, 2023.480,1.53,
  2023.500,1.51, 2023.520,1.88, 2023.540,1.66, 2023.551,2.38, 2023.567,1.95, 2023.587,2.27, 2023.607,1.69, 2023.619,1.36,
  2023.639,1.04, 2023.659,0.89, 2023.678,1.07, 2023.698,1.41, 2023.718,1.22, 2023.738,0.78, 2023.758,0.68, 2023.778,0.94,
  2023.798,1.09, 2023.817,0.75, 2023.837,0.47, 2023.857,1.23, 2023.877,1.55, 2023.897,1.79, 2023.917,2.06, 2023.929,2.48,
  2023.944,1.72, 2023.964,2.64, 2023.976,2.21, 2023.988,1.84, 2024.004,2.06, 2024.024,2.00, 2024.040,1.49, 2024.063,1.49,
  2024.087,1.85, 2024.107,2.17,
];

// ---------------- styling ----------------
const FONT = 'Arial, "Liberation Sans", Helvetica, sans-serif';
const AREA_FILL = "#9AE9FC";
const LINE_RED = "#E3232C";
const AVG_RED = "#FF0000";
const GRID_GREY = "#C8C8C8";
const TITLE_GREEN = "#2E7C6E";

// layout (px)
const PLOT_LEFT = 66;
const PLOT_WIDTH = 1788;
const TOP_PLOT = { top: 73, height: 425 };
const BOTTOM_PLOT = { top: 584, height: 409 };

function toPairs(flat: number[]): number[][] {
  const out: number[][] = [];
  for (let i = 0; i + 1 < flat.length; i += 2) out.push([flat[i], flat[i + 1]]);
  return out;
}

const iiSeries = toPairs([...ii2007to2011, ...ii2011to2015, ...ii2016to2020, ...ii2020to2024]);
const aaiiSeries = toPairs([...aaii2007to2012, ...aaii2013to2018, ...aaii2019to2024]);

function xAxesFor(gridIndex: number) {
  const tickStyle = { color: "#000", width: 1.5 };
  return [
    {
      type: "value", gridIndex, min: X_MIN, max: X_MAX, interval: 0.25, position: "bottom",
      axisLine: { show: false },
      axisTick: { show: true, length: 5, lineStyle: tickStyle },
      axisLabel: { show: false },
      splitLine: { show: false },
    },
    {
      type: "value", gridIndex, min: X_MIN, max: X_MAX, position: "bottom",
      axisLine: { show: false },
      axisTick: { show: true, length: 10, lineStyle: tickStyle, customValues: YEAR_LABELS },
      axisLabel: {
        show: true, customValues: YEAR_LABELS, margin: 14,
        formatter: (v: number) => String(Math.round(v)),
        color: "#000", fontWeight: "bold", fontSize: 23, fontFamily: FONT,
      },
      splitLine: { show: true, lineStyle: { color: GRID_GREY, type: "dotted", width: 1.2 } },
    },
  ];
}

function yAxesFor(gridIndex: number, max: number) {
  const common = {
    type: "value", gridIndex, min: 0, max, interval: Y_STEP,
    axisLine: { show: false },
    axisTick: { show: true, length: 7, lineStyle: { color: "#000", width: 1.5 } },
    axisLabel: {
      margin: 18, color: "#000", fontWeight: "bold", fontSize: 23, fontFamily: FONT,
      formatter: (v: number) => v.toFixed(1),
    },
  };
  return [
    { ...common, position: "left", splitLine: { show: true, lineStyle: { color: GRID_GREY, type: "dotted", width: 1.2 } } },
    { ...common, position: "right", splitLine: { show: false } },
  ];
}

function areaSeries(name: string, data: number[][], xAxisIndex: number, yAxisIndex: number) {
  return {
    name, type: "line", data, xAxisIndex, yAxisIndex,
    showSymbol: false, symbol: "none",
    lineStyle: { color: LINE_RED, width: 1.1 },
    areaStyle: { color: AREA_FILL, opacity: 1 },
    z: 2,
  };
}

function avgSeries(name: string, value: number, lastX: number, xAxisIndex: number, yAxisIndex: number) {
  return {
    name, type: "line", data: [[X_MIN, value], [lastX, value]], xAxisIndex, yAxisIndex,
    showSymbol: false, symbol: "none",
    lineStyle: { color: AVG_RED, width: 4.5, type: [4.5, 4] },
    z: 3,
  };
}

function legendGraphic(box: { x: number; y: number; w: number; h: number }, labels: string[], row1: number, row2: number) {
  const ix0 = box.x + 8;
  const ix1 = ix0 + 55;
  const tx = box.x + 72;
  const Z = 100;
  return [
    { type: "rect", z: Z, shape: { x: box.x, y: box.y, width: box.w, height: box.h }, style: { fill: "#fff", stroke: "#000", lineWidth: 3 } },
    {
      type: "polygon", z: Z + 1,
      shape: { points: [[ix0, row1 + 9], [ix0, row1 - 6], [ix0 + 19, row1 + 2], [ix0 + 37, row1 - 5], [ix1, row1], [ix1, row1 + 9]] },
      style: { fill: AREA_FILL },
    },
    {
      type: "polyline", z: Z + 2,
      shape: { points: [[ix0, row1 - 6], [ix0 + 19, row1 + 2], [ix0 + 37, row1 - 5], [ix1, row1]] },
      style: { stroke: LINE_RED, lineWidth: 1.2, fill: null },
    },
    {
      type: "line", z: Z + 2,
      shape: { x1: ix0, y1: row2, x2: ix1, y2: row2 },
      style: { stroke: AVG_RED, lineWidth: 4, lineDash: [4, 3.5] },
    },
    { type: "text", z: Z + 2, style: { text: labels[0], x: tx, y: row1, font: `bold 24px ${FONT}`, fill: "#000", textVerticalAlign: "middle", verticalAlign: "middle" } },
    { type: "text", z: Z + 2, style: { text: labels[1], x: tx, y: row2, font: `bold 24px ${FONT}`, fill: "#000", textVerticalAlign: "middle", verticalAlign: "middle" } },
  ];
}

export default function App() {
  const ref = useRef<HTMLDivElement>(null);

  useEffect(() => {
    if (!ref.current) return;
    const chart = echarts.init(ref.current, undefined, { renderer: "svg" });

    const frames = [TOP_PLOT, BOTTOM_PLOT].map((p) => ({
      type: "rect", z: 90,
      shape: { x: PLOT_LEFT, y: p.top, width: PLOT_WIDTH, height: p.height },
      style: { fill: null, stroke: "#000", lineWidth: 3.5 },
    }));

    const option: any = {
      animation: false,
      backgroundColor: "#fff",
      textStyle: { fontFamily: FONT },
      grid: [
        { left: PLOT_LEFT, width: PLOT_WIDTH, top: TOP_PLOT.top, height: TOP_PLOT.height, containLabel: false },
        { left: PLOT_LEFT, width: PLOT_WIDTH, top: BOTTOM_PLOT.top, height: BOTTOM_PLOT.height, containLabel: false },
      ],
      xAxis: [...xAxesFor(0), ...xAxesFor(1)],
      yAxis: [...yAxesFor(0, II_Y_MAX), ...yAxesFor(1, AAII_Y_MAX)],
      series: [
        areaSeries(II_LEGEND[0], iiSeries, 1, 0),
        avgSeries(II_LEGEND[1], II_AVERAGE, iiSeries[iiSeries.length - 1][0], 1, 0),
        areaSeries(AAII_LEGEND[0], aaiiSeries, 3, 2),
        avgSeries(AAII_LEGEND[1], AAII_AVERAGE, aaiiSeries[aaiiSeries.length - 1][0], 3, 2),
      ],
      graphic: [
        { type: "rect", z: 100, shape: { x: 66, y: 22, width: 1086, height: 47 }, style: { fill: TITLE_GREEN, stroke: "#5E9F91", lineWidth: 1 } },
        { type: "text", z: 101, style: { text: TITLE, x: 105, y: 46, font: `bold 31px ${FONT}`, fill: "#fff", textVerticalAlign: "middle", verticalAlign: "middle" } },
        ...frames,
        ...legendGraphic({ x: 70, y: 79, w: 715, h: 64 }, II_LEGEND, 96, 123),
        ...legendGraphic({ x: 68, y: 591, w: 516, h: 63 }, AAII_LEGEND, 607, 634),
        { type: "text", z: 101, style: { text: SOURCE, x: 67, y: 1059, font: `bold 24px ${FONT}`, fill: "#000", textVerticalAlign: "middle", verticalAlign: "middle" } },
      ],
    };

    chart.setOption(option);
    return () => chart.dispose();
  }, []);

  return (
    <div
      ref={ref}
      style={{ position: "absolute", left: 0, top: 0, width: 1920, height: 1080, background: "#fff" }}
    />
  );
}
